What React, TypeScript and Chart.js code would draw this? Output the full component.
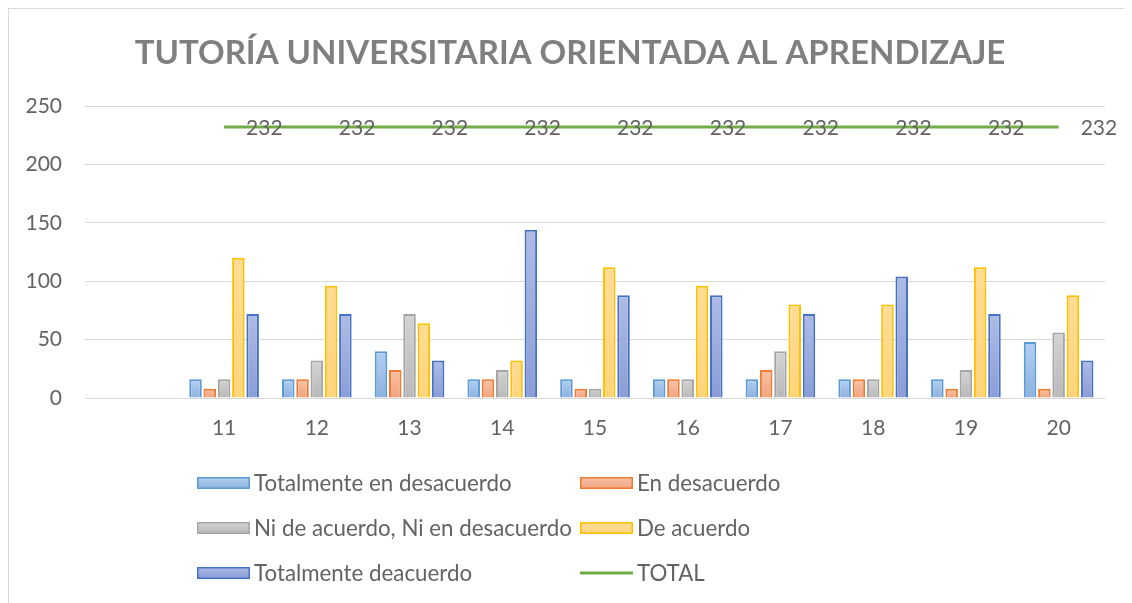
import React, { useEffect, useRef } from "react";
import { Chart, registerables } from "chart.js";

Chart.register(...registerables);

const chartTitle = "TUTORÍA UNIVERSITARIA ORIENTADA AL APRENDIZAJE";
const categories = ["", "11", "12", "13", "14", "15", "16", "17", "18", "19", "20"];
const totalmenteEnDesacuerdo = [null, 16, 16, 40, 16, 16, 16, 16, 16, 16, 48];
const enDesacuerdo = [null, 8, 16, 24, 16, 8, 16, 24, 16, 8, 8];
const niDeAcuerdoNiEnDesacuerdo = [null, 16, 32, 72, 24, 8, 16, 40, 16, 24, 56];
const deAcuerdo = [null, 120, 96, 64, 32, 112, 96, 80, 80, 112, 88];
const totalmenteDeacuerdo = [null, 72, 72, 32, 144, 88, 88, 72, 104, 72, 32];
const totalValues = [null, 232, 232, 232, 232, 232, 232, 232, 232, 232, 232];
const yMin = 0;
const yMax = 250;
const yStep = 50;

const FONT = "Lato, 'Open Sans', sans-serif";
const TEXT_COLOR = "#636363";
const TITLE_COLOR = "#7f7f7f";

const grad = (top: string, bottom: string) => (ctx: any) => {
  const chart = ctx.chart;
  const y = chart.scales && chart.scales.y;
  if (!y || ctx.type !== "data" || ctx.raw == null) return top;
  const y0 = y.getPixelForValue(ctx.raw);
  const y1 = y.getPixelForValue(0);
  if (!isFinite(y0) || !isFinite(y1) || y1 - y0 < 1) return top;
  const g = chart.ctx.createLinearGradient(0, y0, 0, y1);
  g.addColorStop(0, top);
  g.addColorStop(1, bottom);
  return g;
};

const titlePlugin = {
  id: "customTitle",
  afterDraw(chart: any) {
    const ctx = chart.ctx;
    ctx.save();
    ctx.font = `bold 33px ${FONT}`;
    ctx.fillStyle = TITLE_COLOR;
    ctx.textAlign = "center";
    ctx.textBaseline = "alphabetic";
    ctx.fillText(chartTitle, 561, 54.5);
    ctx.restore();
  },
};

const lineLabelPlugin = {
  id: "lineLabels",
  afterDatasetsDraw(chart: any) {
    const ctx = chart.ctx;
    chart.data.datasets.forEach((ds: any, i: number) => {
      if (ds.type !== "line") return;
      const meta = chart.getDatasetMeta(i);
      ctx.save();
      ctx.font = `21px ${FONT}`;
      ctx.fillStyle = TEXT_COLOR;
      ctx.textAlign = "left";
      ctx.textBaseline = "middle";
      meta.data.forEach((pt: any, j: number) => {
        const v = ds.data[j];
        if (v == null) return;
        ctx.fillText(String(v), pt.x + 22, pt.y + 1);
      });
      ctx.restore();
    });
  },
};

const legendPlugin = {
  id: "gridLegend",
  afterDraw(chart: any) {
    const ctx = chart.ctx;
    const colX = [188, 571];
    const rowY = [474, 519, 564];
    const boxW = 53;
    const boxH = 12;
    ctx.save();
    ctx.font = `22.3px ${FONT}`;
    ctx.textBaseline = "middle";
    ctx.textAlign = "left";
    chart.data.datasets.forEach((ds: any, i: number) => {
      const x = colX[i % 2];
      const y = rowY[Math.floor(i / 2)];
      if (ds.type === "line") {
        ctx.strokeStyle = ds.borderColor;
        ctx.lineWidth = 3;
        ctx.beginPath();
        ctx.moveTo(x, y);
        ctx.lineTo(x + boxW, y);
        ctx.stroke();
      } else {
        const g = ctx.createLinearGradient(0, y - boxH / 2, 0, y + boxH / 2);
        g.addColorStop(0, ds.legendTop);
        g.addColorStop(1, ds.legendBottom);
        ctx.fillStyle = g;
        ctx.fillRect(x, y - boxH / 2, boxW, boxH);
        ctx.strokeStyle = ds.borderColor;
        ctx.lineWidth = 1.5;
        ctx.strokeRect(x + 0.75, y - boxH / 2 + 0.75, boxW - 1.5, boxH - 1.5);
      }
      ctx.fillStyle = TEXT_COLOR;
      ctx.fillText(ds.label, x + boxW + 4, y + 1);
    });
    ctx.restore();
  },
};

export default function App() {
  const canvasRef = useRef<HTMLCanvasElement | null>(null);

  useEffect(() => {
    document.body.style.overflow = "hidden";
    const canvas = canvasRef.current;
    if (!canvas) return;
    const barDs = (label: string, data: any[], top: string, bottom: string, border: string) => ({
      type: "bar" as const,
      label,
      data,
      backgroundColor: grad(top, bottom),
      legendTop: top,
      legendBottom: bottom,
      borderColor: border,
      borderWidth: 2,
      categoryPercentage: 0.77,
      barPercentage: 0.877,
      order: 1,
    });
    const chart = new Chart(canvas, {
      type: "bar",
      data: {
        labels: categories,
        datasets: [
          barDs("Totalmente en desacuerdo", totalmenteEnDesacuerdo, "#b2cfef", "#8db2df", "#5b9bd5"),
          barDs("En desacuerdo", enDesacuerdo, "#f8c2a7", "#f2a37e", "#ed7d31"),
          barDs("Ni de acuerdo, Ni en desacuerdo", niDeAcuerdoNiEnDesacuerdo, "#d3d3d3", "#b9b9b9", "#a5a5a5"),
          barDs("De acuerdo", deAcuerdo, "#ffdc96", "#ffd47c", "#ffc000"),
          barDs("Totalmente deacuerdo", totalmenteDeacuerdo, "#aebbe5", "#8a9dd6", "#4472c4"),
          {
            type: "line" as const,
            label: "TOTAL",
            data: totalValues,
            borderColor: "#70ad47",
            backgroundColor: "#70ad47",
            borderWidth: 3,
            pointRadius: 0,
            fill: false,
            order: 0,
          } as any,
        ],
      },
      options: {
        responsive: false,
        animation: false,
        layout: { padding: { left: 0, right: 27, top: 97, bottom: 163 } },
        plugins: {
          legend: { display: false },
          tooltip: { enabled: false },
          title: { display: false },
        },
        scales: {
          x: {
            grid: { display: false, drawTicks: false },
            border: { display: false },
            ticks: {
              color: TEXT_COLOR,
              font: { family: FONT, size: 21 },
              padding: 18,
              maxRotation: 0,
              autoSkip: false,
            },
            afterFit: (axis: any) => {
              axis.height = 43;
            },
          },
          y: {
            min: yMin,
            max: yMax,
            grid: { color: "#d9d9d9", lineWidth: 1, drawTicks: false },
            border: { display: false },
            ticks: {
              stepSize: yStep,
              color: TEXT_COLOR,
              font: { family: FONT, size: 21 },
              padding: 23,
            },
            afterFit: (axis: any) => {
              axis.width = 76;
            },
          },
        },
      },
      plugins: [titlePlugin, lineLabelPlugin, legendPlugin],
    } as any);
    return () => chart.destroy();
  }, []);

  return (
    <div
      style={{
        border: "1px solid #d9d9d9",
        width: 1140,
        height: 610,
        background: "#fff",
      }}
    >
      <canvas ref={canvasRef} width={1123} height={595} style={{ display: "block" }} />
    </div>
  );
}
